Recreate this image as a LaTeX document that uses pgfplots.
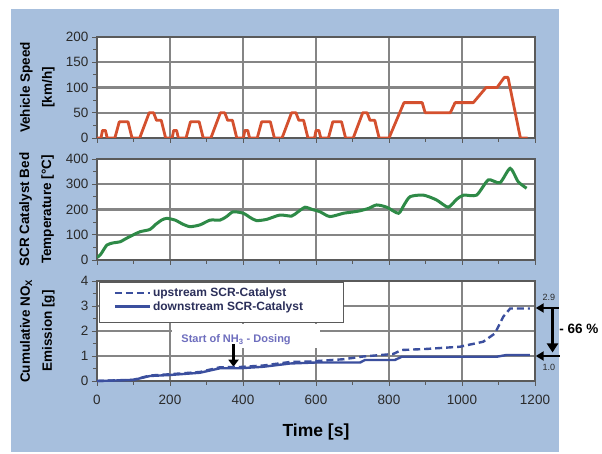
\documentclass[border=0pt]{standalone}
\usepackage{pgfplots}
\pgfplotsset{compat=1.18}
\usepackage{fontspec}
\setmainfont{Liberation Sans}
\usetikzlibrary{arrows.meta}

\definecolor{bgblue}{HTML}{A7BFDD}
\definecolor{speedred}{HTML}{D4502E}
\definecolor{tempgreen}{HTML}{2E8A47}
\definecolor{noxblue}{HTML}{3B4F9E}
\definecolor{gridgray}{HTML}{858585}
\definecolor{framegray}{HTML}{5A5A5A}
\definecolor{ticktext}{HTML}{2A2A2A}
\definecolor{legtext}{HTML}{2B2F5A}
\definecolor{annotblue}{HTML}{6E6EBE}

\pgfplotsset{panel/.style={
    scale only axis, width=438pt, height=101pt, anchor=south west,
    xmin=0, xmax=1200, xtick={0,200,...,1200}, minor x tick num=1,
    tick pos=left, tick align=outside,
    major tick length=5pt, minor tick length=4pt,
    tick style={framegray, line width=0.9pt},
    grid=major, major grid style={gridgray, line width=2.2pt},
    axis line style={framegray, line width=1.3pt},
    axis background/.style={fill=white},
    ticklabel style={font=\fontsize{13.5}{14}\selectfont, text=ticktext},
    /pgf/number format/assume math mode=true,
    /pgf/number format/1000 sep={},
    ylabel style={at={(axis description cs:-0.136,0.5)}, anchor=center,
        align=center, font=\bfseries\fontsize{13.5}{22}\selectfont},
}}

\begin{document}
\begin{tikzpicture}[x=1pt,y=1pt]
\path (0,0) rectangle (602,454);
\fill[bgblue] (11,2) rectangle (559,445);

% vehicle speed
\begin{axis}[panel, at={(97pt,316pt)},
    ymin=0, ymax=200, ytick={0,50,...,200}, minor y tick num=1,
    xticklabels={}, ylabel={Vehicle Speed\\{}[km/h]}]
\addplot[speedred, line width=2.8pt, line join=round] coordinates {
 (0,0)(11,0)(15,15)(23,15)(28,0)(49,0)(61,32)(85,32)(96,0)(117,0)(143,50)(155,50)(163,35)(176,35)(188,0)
 (195,0)(206,0)(210,15)(218,15)(223,0)(244,0)(256,32)(280,32)(291,0)(312,0)(338,50)(350,50)(358,35)(371,35)(383,0)
 (390,0)(401,0)(405,15)(413,15)(418,0)(439,0)(451,32)(475,32)(486,0)(507,0)(533,50)(545,50)(553,35)(566,35)(578,0)
 (585,0)(596,0)(600,15)(608,15)(613,0)(634,0)(646,32)(670,32)(681,0)(702,0)(728,50)(740,50)(748,35)(761,35)(773,0)
 (780,0)(800,0)(841,70)(891,70)(899,50)(968,50)(981,70)(1031,70)(1066,100)(1096,100)(1116,120)(1126,120)(1160,0)(1180,0)
};
\end{axis}

% catalyst temperature
\begin{axis}[panel, at={(97pt,194pt)},
    ymin=0, ymax=400, ytick={0,100,...,400}, minor y tick num=1,
    xticklabels={}, ylabel={SCR Catalyst Bed\\Temperature [°C]},
    ylabel style={at={(axis description cs:-0.138,0.5)}}]
\addplot[tempgreen, line width=3pt, smooth, tension=0.4] coordinates {
 (0,10)(10,22)(27,59)(45,68)(63,72)(81,86)(100,100)(118,112)(145,121)(160,140)
 (177,158)(191,165)(214,158)(235,142)(255,132)(282,139)(310,158)(337,158)(355,172)
 (373,191)(401,185)(420,168)(437,156)(465,161)(501,178)(533,174)(550,190)(570,209)
 (590,200)(611,191)(638,172)(675,185)(700,190)(721,195)(745,205)(766,218)(794,209)
 (826,185)(842,220)(858,251)(894,257)(930,238)(962,209)(985,240)(1004,257)(1040,257)
 (1072,317)(1104,306)(1132,363)(1154,310)(1177,284)
};
\end{axis}

% cumulative NOx
\begin{axis}[panel, at={(97pt,73pt)}, height=100pt, clip=false,
    ymin=0, ymax=4, ytick={0,1,...,4}, minor y tick num=1,
    xticklabel style={yshift=-6pt},
    xlabel={Time [s]},
    xlabel style={at={(axis description cs:0.5,-0.51)}, anchor=center,
        font=\bfseries\fontsize{17.5}{20}\selectfont},
    ylabel={Cumulative NO\textsubscript{X}\\Emission [g]},
    legend cell align=left,
    legend image code/.code={\draw[#1] (0pt,0pt) -- (35pt,0pt);},
    legend style={at={(axis cs:45,3.8)}, anchor=north west, draw=none, fill=none,
        inner sep=0pt, row sep=-1pt, font=\bfseries\fontsize{12}{13}\selectfont}]
\draw[framegray, line width=1pt, fill=white] (axis cs:8,2.32) rectangle (axis cs:675,3.94);
\fill[white] (axis cs:205,1.3) rectangle (axis cs:612,2.27);
\node[font=\bfseries\fontsize{11}{12}\selectfont, text=annotblue] at (axis cs:381,1.64)
    {Start of NH\textsubscript{3} - Dosing};
\draw[line width=3pt, -{Triangle[length=7pt,width=10pt]}] (axis cs:374,1.46) -- (axis cs:374,0.57);

\addplot[noxblue, line width=2.4pt, dash pattern=on 7pt off 4pt] coordinates {
 (0,0)(100,0.05)(145,0.22)(200,0.27)(282,0.36)(337,0.55)(392,0.56)(456,0.62)(529,0.76)
 (584,0.78)(675,0.87)(729,0.98)(811,1.08)(835,1.24)(900,1.28)(994,1.37)(1058,1.57)
 (1090,1.9)(1113,2.57)(1132,2.9)(1186,2.9)
};
\addlegendentry{\textcolor{legtext}{upstream SCR-Catalyst}}
\addplot[noxblue, line width=2.4pt] coordinates {
 (0,0)(99,0.04)(145,0.2)(200,0.24)(282,0.33)(337,0.51)(392,0.51)(456,0.57)(529,0.7)
 (600,0.74)(721,0.74)(734,0.84)(816,0.84)(835,0.97)(1095,0.97)(1122,1.04)(1186,1.04)
};
\addlegendentry{\textcolor{legtext}{downstream SCR-Catalyst}}

\node[font=\fontsize{9}{10}\selectfont, text=ticktext] at (axis cs:1238,3.36) {2.9};
\node[font=\fontsize{9}{10}\selectfont, text=ticktext] at (axis cs:1238,0.56) {1.0};
\draw[line width=2.5pt, -{Triangle[length=8pt,width=9pt]}] (axis cs:1265,2.92) -- (axis cs:1202,2.92);
\draw[line width=2.5pt, -{Triangle[length=8pt,width=9pt]}] (axis cs:1268,1.0) -- (axis cs:1202,1.0);
\draw[line width=2.5pt, -{Triangle[length=9pt,width=11pt]}] (axis cs:1248,2.92) -- (axis cs:1248,1.14);
\node[font=\bfseries\fontsize{13.5}{14}\selectfont] at (axis cs:1320,2.08) {- 66 \%};
\end{axis}
\end{tikzpicture}
\end{document}
